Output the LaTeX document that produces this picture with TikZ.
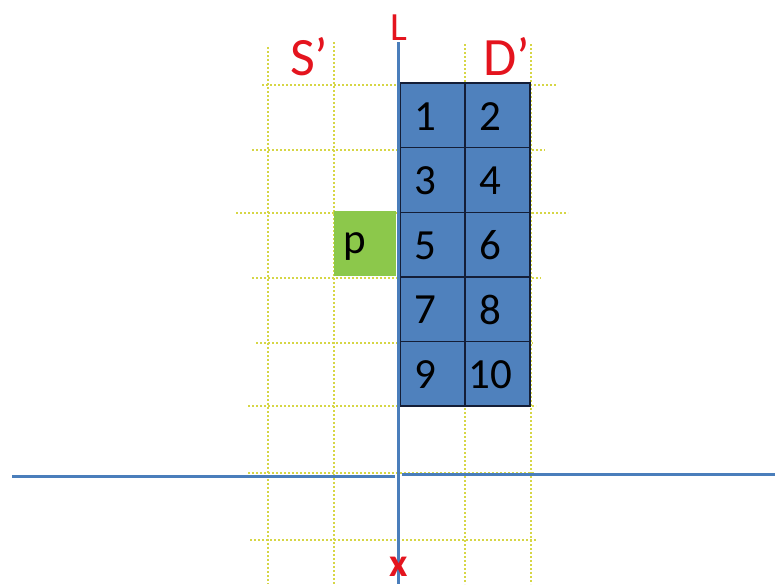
\documentclass[tikz,border=0pt]{standalone}
\usepackage{fontspec}
\setmainfont{Carlito}
\definecolor{blockblue}{RGB}{79,129,189}
\definecolor{lineblue}{RGB}{74,126,187}
\definecolor{cellgreen}{RGB}{140,200,75}
\definecolor{gridyellow}{RGB}{214,214,70}
\definecolor{labelred}{RGB}{228,20,30}
\definecolor{celledge}{RGB}{20,30,55}
\tikzset{
  gridline/.style={draw=gridyellow, line width=2pt, dash pattern=on 2.4pt off 1.6pt},
  axisline/.style={draw=lineblue, line width=3pt},
  cellbox/.style={draw=celledge, fill=blockblue, line width=1.4pt, minimum width=65pt, minimum height=64.6pt, inner sep=0pt, outer sep=0pt},
  pbox/.style={fill=cellgreen, minimum width=62pt, minimum height=65pt, inner sep=0pt, outer sep=0pt},
  celltext/.style={font=\fontsize{43}{43}\selectfont, text=black, inner sep=0pt},
  redlabel/.style={text=labelred, inner sep=0pt, anchor=base}
}
\begin{document}
\begin{tikzpicture}[x=1pt,y=-1pt]
\useasboundingbox (0,0) rectangle (775,584);
% yellow dotted grid
\coordinate (v1t) at (268,47); \coordinate (v1b) at (268,584);
\coordinate (v2t) at (334,42); \coordinate (v2b) at (334,584);
\coordinate (v3t) at (465,44); \coordinate (v3b) at (465,584);
\coordinate (v4t) at (531,44); \coordinate (v4b) at (531,584);
\draw[gridline] (v1t) -- (v1b);
\draw[gridline] (v2t) -- (v2b);
\draw[gridline] (v3t) -- (v3b);
\draw[gridline] (v4t) -- (v4b);
\coordinate (h1l) at (262,85);  \coordinate (h1r) at (556,85);
\coordinate (h2l) at (252,150); \coordinate (h2r) at (545,150);
\coordinate (h3l) at (236,213); \coordinate (h3r) at (568,213);
\coordinate (h4l) at (252,278); \coordinate (h4r) at (541,278);
\coordinate (h5l) at (256,343); \coordinate (h5r) at (533,343);
\coordinate (h6l) at (248,406); \coordinate (h6r) at (536,406);
\coordinate (h7l) at (248,473); \coordinate (h7r) at (535,473);
\coordinate (h8l) at (250,540); \coordinate (h8r) at (537,540);
\foreach \i in {1,...,8} {\draw[gridline] (h\i l) -- (h\i r);}
% green p cell
\node[pbox] (pc) at (365,243.5) {};
\node[celltext, anchor=base] (pt) at (355,253) {p};
% blue block cells
\foreach \n/\cx/\cy in {1/432.5/115.3, 2/497.5/115.3, 3/432.5/179.9, 4/497.5/179.9, 5/432.5/244.5, 6/497.5/244.5, 7/432.5/309.1, 8/497.5/309.1, 9/432.5/373.7, 10/497.5/373.7} {
  \node[cellbox] (c\n) at (\cx,\cy) {};
  \node[celltext] (t\n) at ([xshift=-7pt,yshift=-1pt]c\n.center) {\n};
}
% blue axis lines
\coordinate (Ltop) at (398,42); \coordinate (Lbot) at (398,584);
\draw[axisline] (Ltop) -- (Lbot);
\coordinate (hA) at (12,476); \coordinate (hB) at (395,476);
\coordinate (hC) at (402,474); \coordinate (hD) at (775,474);
\draw[axisline] (hA) -- (hB);
\draw[axisline] (hC) -- (hD);
% red labels
\node[redlabel, font=\fontsize{54}{54}\selectfont] (S) at (309,75) {S’};
\node[redlabel, font=\fontsize{54}{54}\selectfont] (D) at (507,75) {D’};
\node[redlabel, font=\fontsize{40}{40}\selectfont] (L) at (399,40) {L};
\node[redlabel, font=\fontsize{40}{40}\selectfont\bfseries] (X) at (399,576) {x};
\end{tikzpicture}
\end{document}
